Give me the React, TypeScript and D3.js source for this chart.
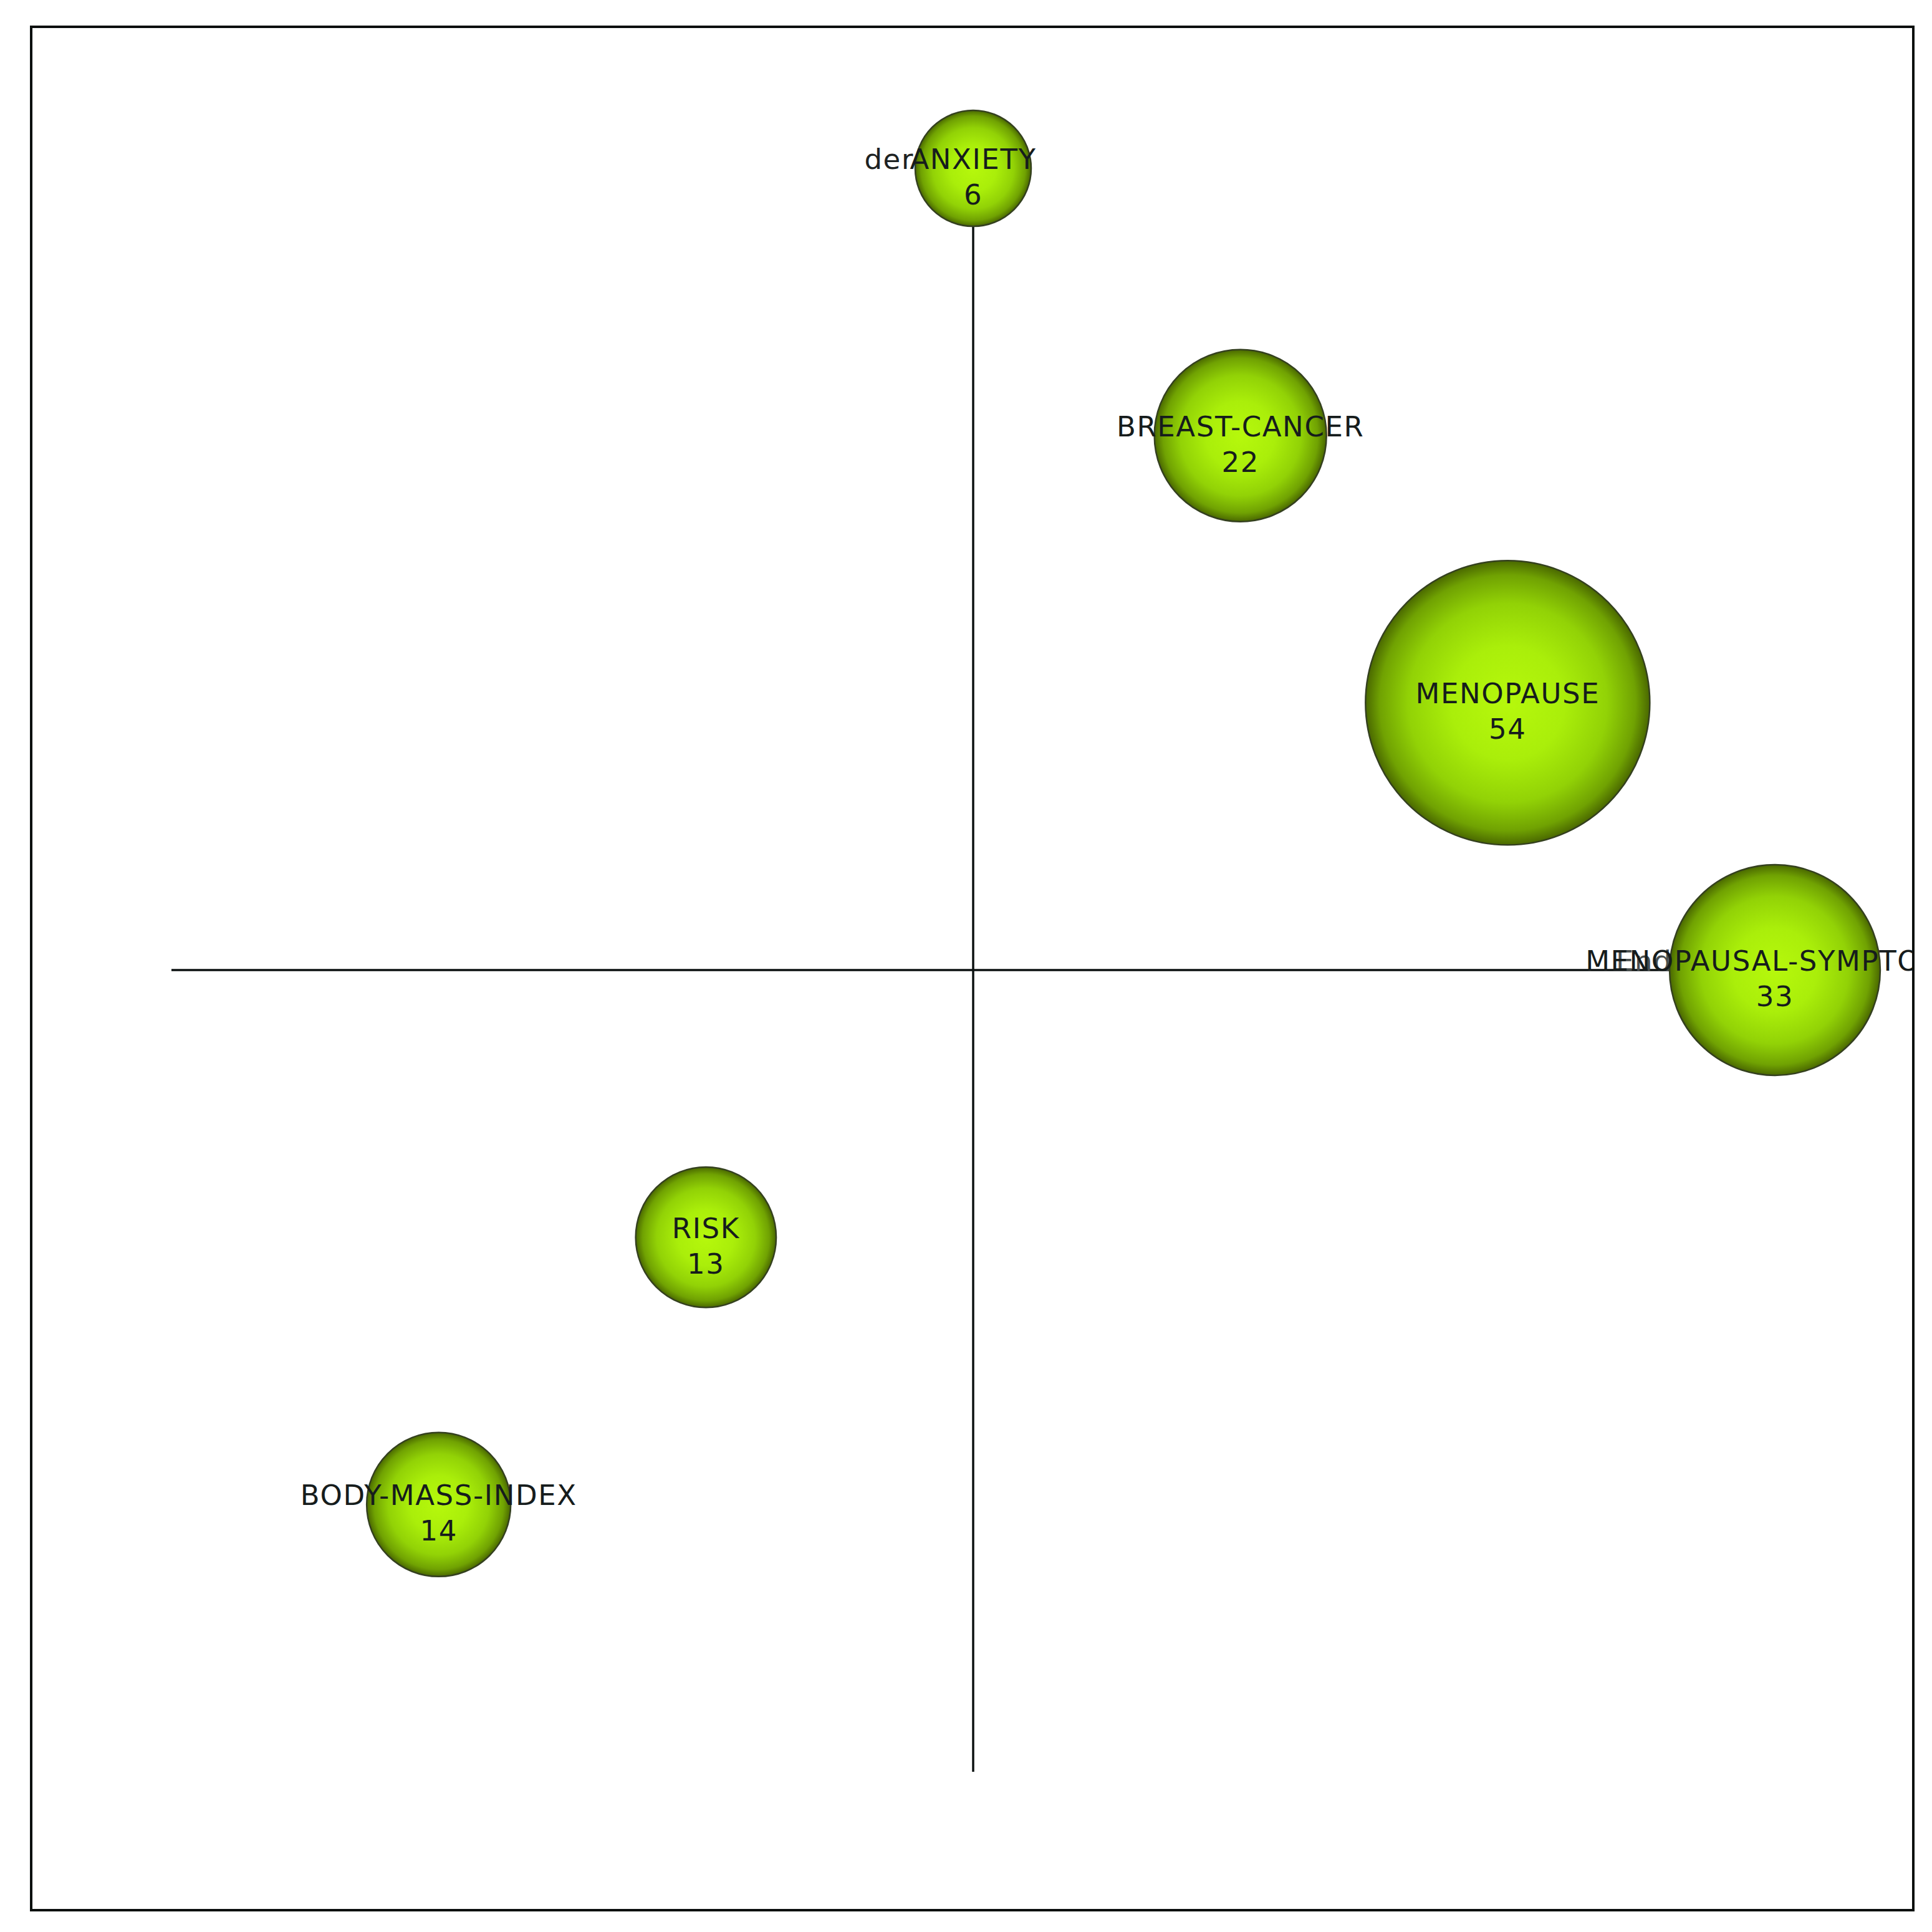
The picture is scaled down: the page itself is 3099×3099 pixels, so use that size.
import React, { useEffect, useRef } from 'react';
import * as d3 from 'd3';

// keywords, centrality (x), density (y), occurrences
const keywords = ['ANXIETY', 'BREAST-CANCER', 'MENOPAUSE', 'MENOPAUSAL-SYMPTOMS', 'RISK', 'BODY-MASS-INDEX'];
const centrality = [0, 1, 2, 3, -1, -2];
const density = [3, 2, 1, 0, -1, -2];
const counts = [6, 22, 54, 33, 13, 14];

// stray labels left in the picture
const strayLabels = ['der', 'End'];
const strayAnchor = ['ANXIETY', 'MENOPAUSAL-SYMPTOMS'];

const W = 3099;
const H = 3099;

export default function App() {
	const ref = useRef<SVGSVGElement>(null);

	useEffect(() => {
		const svg = d3.select(ref.current);
		svg.selectAll('*').remove();

		const frame = { x: 50, y: 43, w: 3019, h: 3021 };

		const x = d3.scaleLinear().domain([-3, 3]).range([275, 2847]);
		const y = d3.scaleLinear().domain([-3, 3]).range([2842, 270]);
		const r = d3.scaleLinear().domain([6, 54]).range([93, 228]);

		const defs = svg.append('defs');
		const grad = defs.append('radialGradient').attr('id', 'ball');
		grad.append('stop').attr('offset', '0%').attr('stop-color', '#b6f80c');
		grad.append('stop').attr('offset', '40%').attr('stop-color', '#aaee0a');
		grad.append('stop').attr('offset', '70%').attr('stop-color', '#92d206');
		grad.append('stop').attr('offset', '90%').attr('stop-color', '#70a202');
		grad.append('stop').attr('offset', '100%').attr('stop-color', '#4a6800');

		defs.append('clipPath').attr('id', 'frame-clip')
			.append('rect')
			.attr('x', frame.x).attr('y', frame.y)
			.attr('width', frame.w).attr('height', frame.h);

		svg.append('rect')
			.attr('x', 0).attr('y', 0).attr('width', W).attr('height', H)
			.attr('fill', '#fff');

		const g = svg.append('g').attr('clip-path', 'url(#frame-clip)');

		// quadrant axes
		g.append('line')
			.attr('x1', x(-3)).attr('x2', x(3))
			.attr('y1', y(0)).attr('y2', y(0))
			.attr('stroke', '#0b1110').attr('stroke-width', 3.5);
		g.append('line')
			.attr('x1', x(0)).attr('x2', x(0))
			.attr('y1', y(-3)).attr('y2', y(3))
			.attr('stroke', '#0b1110').attr('stroke-width', 3.5);

		const data = keywords.map((k, i) => ({ name: k, cx: centrality[i], cy: density[i], n: counts[i] }));

		g.selectAll('circle.ball')
			.data(data)
			.enter()
			.append('circle')
			.attr('class', 'ball')
			.attr('cx', d => x(d.cx))
			.attr('cy', d => y(d.cy))
			.attr('r', d => r(d.n))
			.attr('fill', 'url(#ball)')
			.attr('stroke', '#34401f')
			.attr('stroke-width', 2.5);

		const font = '"DejaVu Sans", Verdana, sans-serif';
		const fs = 45;
		const ls = 1.6;

		// stray text fragments
		strayLabels.forEach((s, i) => {
			const d = data.find(e => e.name === strayAnchor[i]);
			if (!d) return;
			const t = g.append('text')
				.attr('y', y(d.cy) + 1)
				.attr('font-family', font)
				.attr('font-size', fs)
				.attr('letter-spacing', ls)
				.attr('fill', i === 0 ? '#1d2222' : '#4a4f4f')
				.text(s);
			if (i === 0) {
				t.attr('x', x(d.cx) - 95).attr('text-anchor', 'end');
			} else {
				t.attr('x', x(d.cx) - 255).attr('text-anchor', 'start');
			}
		});

		const labels = g.selectAll('g.label')
			.data(data)
			.enter()
			.append('g')
			.attr('class', 'label')
			.attr('font-family', font)
			.attr('font-size', fs)
			.attr('letter-spacing', ls)
			.attr('fill', '#161c1c')
			.attr('text-anchor', 'middle');

		labels.append('text')
			.attr('x', d => x(d.cx))
			.attr('y', d => y(d.cy) + 1)
			.text(d => d.name);
		labels.append('text')
			.attr('x', d => x(d.cx))
			.attr('y', d => y(d.cy) + 58)
			.text(d => d.n);

		svg.append('rect')
			.attr('x', frame.x).attr('y', frame.y)
			.attr('width', frame.w).attr('height', frame.h)
			.attr('fill', 'none')
			.attr('stroke', '#0b0f0e')
			.attr('stroke-width', 4);
	}, []);

	return (
		<svg ref={ref} width={W} height={H} style={{ position: 'absolute', left: 0, top: 0 }} />
	);
}
